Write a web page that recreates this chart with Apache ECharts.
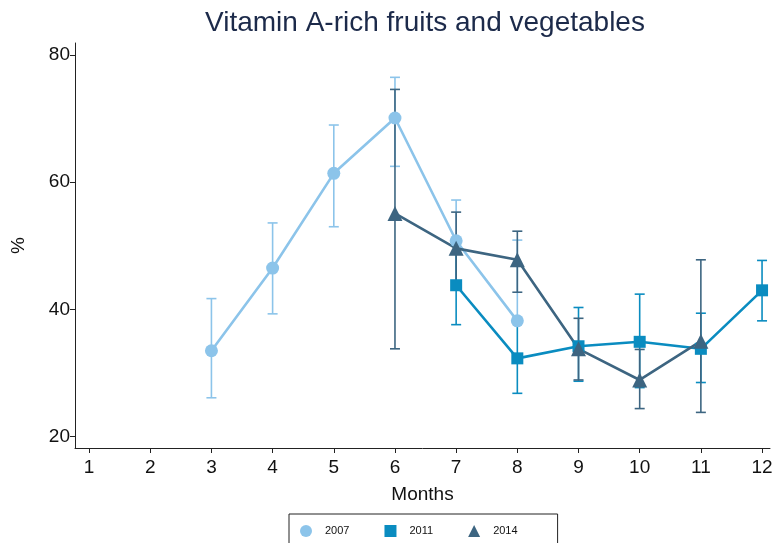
<!DOCTYPE html>
<html>
<head>
<meta charset="utf-8">
<script src="https://cdn.jsdelivr.net/npm/echarts@6/dist/echarts.min.js"></script>
<style>
  html, body { margin: 0; padding: 0; background: #fff; }
  #chart { width: 776px; height: 543px; }
</style>
</head>
<body>
<div id="chart"></div>
<script>
// months on the x axis
const months = [1, 2, 3, 4, 5, 6, 7, 8, 9, 10, 11, 12]
const yTicks = [20, 40, 60, 80]

// point estimates (%), null = no survey data that month
const pct2007 = [null, null, 33.5, 46.5, 61.4, 70.1, 50.8, 38.2, null, null, null, null]
const pct2011 = [null, null, null, null, null, null, 43.8, 32.3, 34.2, 34.9, 33.8, 43.0]
const pct2014 = [null, null, null, null, null, 55.1, 49.6, 47.8, 33.8, 28.9, 35.0, null]

// confidence intervals
const lo2007 = [null, null, 26.1, 39.3, 53.0, 62.5, 44.2, 37.9, null, null, null, null]
const hi2007 = [null, null, 41.7, 53.6, 69.0, 76.5, 57.2, 50.9, null, null, null, null]
const lo2011 = [null, null, null, null, null, null, 37.6, 26.8, 28.7, 27.7, 28.5, 38.2]
const hi2011 = [null, null, null, null, null, null, 50.2, 38.3, 40.3, 42.4, 39.4, 47.7]
const lo2014 = [null, null, null, null, null, 33.8, 43.5, 42.7, 28.9, 24.4, 23.8, null]
const hi2014 = [null, null, null, null, null, 74.6, 55.3, 52.3, 38.6, 33.7, 47.8, null]

const colors = { '2007': '#8CC4EA', '2011': '#0A8CC0', '2014': '#3D6581' }

const chart = echarts.init(document.getElementById('chart'), null, { renderer: 'canvas' })

const points = (arr) => months.map((m, i) => [m, arr[i]])
const bars = (lo, hi) => months
  .map((m, i) => [m, lo[i], hi[i]])
  .filter(d => d[1] != null && d[2] != null)

const errorSeries = (name, lo, hi) => ({
  name: name + ' CI',
  type: 'custom',
  z: 1,
  silent: true,
  encode: { x: 0, y: [1, 2] },
  data: bars(lo, hi),
  renderItem: (params, api) => {
    const x = api.value(0)
    const a = api.coord([x, api.value(1)])
    const b = api.coord([x, api.value(2)])
    const w = 5
    const style = { stroke: colors[name], lineWidth: 1.6 }
    return {
      type: 'group',
      children: [
        { type: 'line', shape: { x1: a[0], y1: a[1], x2: b[0], y2: b[1] }, style },
        { type: 'line', shape: { x1: a[0] - w, y1: a[1], x2: a[0] + w, y2: a[1] }, style },
        { type: 'line', shape: { x1: b[0] - w, y1: b[1], x2: b[0] + w, y2: b[1] }, style }
      ]
    }
  }
})

const lineSeries = (name, arr, symbol, size) => ({
  name,
  type: 'line',
  z: 3,
  data: points(arr),
  symbol,
  symbolSize: size,
  color: colors[name],
  lineStyle: { width: 2.6, color: colors[name] },
  itemStyle: { color: colors[name] }
})

const axisLine = { show: true, lineStyle: { color: '#222', width: 1 } }
const font = 'Liberation Sans'

chart.setOption({
  animation: false,
  backgroundColor: '#fff',
  title: {
    text: 'Vitamin A-rich fruits and vegetables',
    left: 200,
    top: 4,
    textStyle: {
      fontFamily: font,
      fontWeight: 'normal',
      fontSize: 28,
      color: '#1C2A4A'
    }
  },
  legend: {
    left: 289,
    top: 514,
    orient: 'horizontal',
    itemWidth: 12,
    itemHeight: 12,
    itemGap: 35,
    padding: [11, 40, 11, 11],
    borderColor: '#222',
    borderWidth: 1,
    textStyle: { fontFamily: font, fontSize: 11, color: '#111', padding: [0, 0, 0, 8] },
    data: [
      { name: '2007', icon: 'circle' },
      { name: '2011', icon: 'rect' },
      { name: '2014', icon: 'triangle' }
    ]
  },
  grid: { left: 75, right: 6, top: 43, bottom: 95, containLabel: false, outerBoundsMode: 'none' },
  xAxis: {
    type: 'value',
    min: 0.77,
    max: 12.13,
    name: 'Months',
    nameLocation: 'middle',
    nameGap: 37,
    nameTextStyle: { fontFamily: font, fontSize: 19, color: '#111' },
    axisLine,
    axisTick: { show: true, inside: false, length: 5, customValues: months, lineStyle: { color: '#222' } },
    axisLabel: { customValues: months, margin: 10, fontFamily: font, fontSize: 19, color: '#111' },
    splitLine: { show: false }
  },
  yAxis: {
    type: 'value',
    min: 18.2,
    max: 81.9,
    name: '%',
    nameLocation: 'middle',
    nameGap: 47,
    nameRotate: 90,
    nameTextStyle: { fontFamily: font, fontSize: 19, color: '#111' },
    axisLine,
    axisTick: { show: true, inside: false, length: 5, customValues: yTicks, lineStyle: { color: '#222' } },
    axisLabel: { customValues: yTicks, margin: 5, fontFamily: font, fontSize: 19, color: '#111' },
    splitLine: { show: false }
  },
  series: [
    errorSeries('2007', lo2007, hi2007),
    errorSeries('2011', lo2011, hi2011),
    errorSeries('2014', lo2014, hi2014),
    lineSeries('2007', pct2007, 'circle', 13),
    lineSeries('2011', pct2011, 'rect', 12),
    lineSeries('2014', pct2014, 'triangle', 15)
  ]
})

window.addEventListener('resize', () => chart.resize())
</script>
</body>
</html>
